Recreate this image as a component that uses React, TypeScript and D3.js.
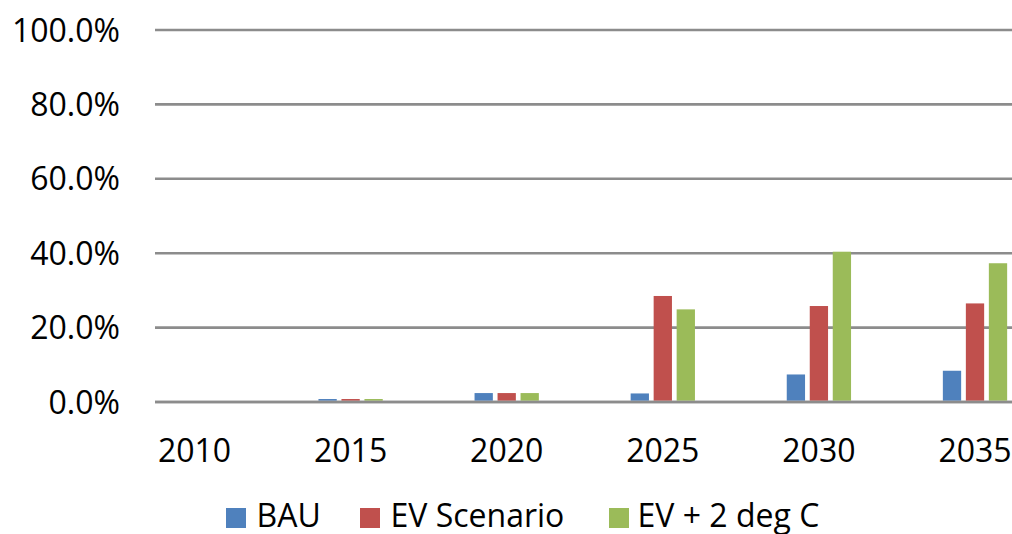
import React from "react";
import * as d3 from "d3";

const categories = ["2010", "2015", "2020", "2025", "2030", "2035"];
const seriesNames = ["BAU", "EV Scenario", "EV + 2 deg C"];
const bau = [0, 0.008, 0.024, 0.023, 0.074, 0.084];
const evScenario = [0, 0.008, 0.024, 0.285, 0.258, 0.265];
const ev2deg = [0, 0.008, 0.024, 0.249, 0.404, 0.373];
const yTicks = [0, 0.2, 0.4, 0.6, 0.8, 1.0];
const colors = ["#4F81BD", "#C0504D", "#9BBB59"];

const W = 1012;
const H = 534;
const FONT = "'Open Sans', 'Liberation Sans', sans-serif";

export default function App() {
  const values = [bau, evScenario, ev2deg];
  const y = d3.scaleLinear().domain([0, 1]).range([402, 30]);
  const step = 156.1;
  const firstCenter = 194.5;
  const x = d3
    .scaleBand<string>()
    .domain(categories)
    .range([firstCenter - step / 2, firstCenter - step / 2 + step * categories.length])
    .padding(0);
  const inner = d3.scaleBand<string>().domain(seriesNames).range([-34.5, 34.5]).padding(0);
  const barW = 18.3;
  const gridLeft = 155;
  const gridRight = W;
  const fmt = d3.format(".1%");

  const legendPos = [
    { sq: 226, tx: 256.5 },
    { sq: 360, tx: 390.5 },
    { sq: 609, tx: 637.5 },
  ];

  return (
    <svg
      width={W}
      height={H}
      style={{ position: "absolute", left: 0, top: 0, background: "#fff" }}
      fontFamily={FONT}
    >
      {yTicks.map((t) => (
        <g key={t}>
          <line x1={gridLeft} x2={gridRight} y1={y(t)} y2={y(t)} stroke="#8c8c8c" strokeWidth={2.6} />
          <text x={120} y={y(t) + 11.5} textAnchor="end" fontSize={32} fill="#000">
            {fmt(t)}
          </text>
        </g>
      ))}
      {categories.map((c, i) => {
        const cx = (x(c) as number) + x.bandwidth() / 2;
        return (
          <g key={c}>
            {seriesNames.map((s, si) => {
              const v = values[si][i];
              if (v <= 0) return null;
              const bx = cx + (inner(s) as number) + inner.bandwidth() / 2 - barW / 2;
              return (
                <rect
                  key={s}
                  x={bx}
                  y={y(v)}
                  width={barW}
                  height={y(0) - y(v) - 1.3}
                  fill={colors[si]}
                />
              );
            })}
            <text x={cx} y={461.7} textAnchor="middle" fontSize={32} fill="#000">
              {c}
            </text>
          </g>
        );
      })}
      <line x1={gridLeft} x2={gridRight} y1={y(0)} y2={y(0)} stroke="#8c8c8c" strokeWidth={2.6} />
      {seriesNames.map((s, si) => (
        <g key={s}>
          <rect x={legendPos[si].sq} y={508} width={20} height={20} fill={colors[si]} />
          <text x={legendPos[si].tx} y={526.5} fontSize={32} fill="#000">
            {s}
          </text>
        </g>
      ))}
    </svg>
  );
}
